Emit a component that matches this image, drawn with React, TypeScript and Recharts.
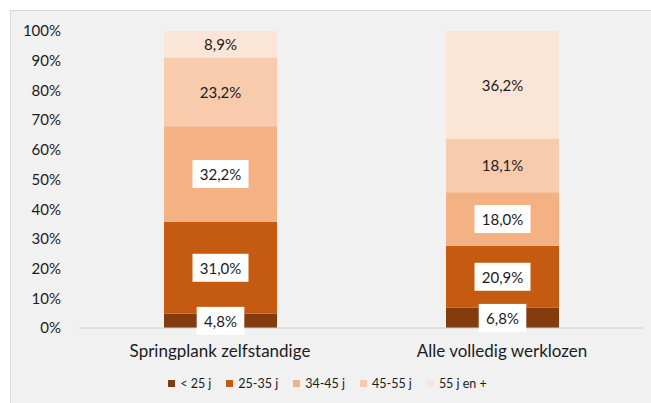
import React from "react";
import { BarChart, Bar, XAxis, YAxis, Legend, LabelList } from "recharts";

const categories = ["Springplank zelfstandige", "Alle volledig werklozen"];
const seriesNames = ["< 25 j", "25-35 j", "34-45 j", "45-55 j", "55 j en +"];
const under25 = [4.8, 6.8];
const age25to35 = [31.0, 20.9];
const age34to45 = [32.2, 18.0];
const age45to55 = [23.2, 18.1];
const over55 = [8.9, 36.2];
const yTicks = [0, 0.1, 0.2, 0.3, 0.4, 0.5, 0.6, 0.7, 0.8, 0.9, 1];

const colors = ["#843C0C", "#C55A11", "#F4B183", "#F8CBAD", "#FBE5D6"];
const keys = ["s0", "s1", "s2", "s3", "s4"];
const boxed = [true, true, true, false, false];

const data = categories.map((name, i) => ({
  name,
  s0: under25[i],
  s1: age25to35[i],
  s2: age34to45[i],
  s3: age45to55[i],
  s4: over55[i],
}));

const FONT = "Lato, 'Open Sans', sans-serif";
const INK = "#1c1c1c";
const fmt = (v: number) => v.toFixed(1).replace(".", ",") + "%";

function makeLabel(withBox: boolean) {
  return (props: any) => {
    const { x, y, width, height, value } = props;
    const cx = x + width / 2;
    const cy = y + height / 2;
    const text = fmt(Number(value));
    const w = text.length * 8.4 + 14;
    return (
      <g>
        {withBox && <rect x={cx - w / 2} y={cy - 14} width={w} height={28} fill="#ffffff" />}
        <text
          x={cx}
          y={cy}
          textAnchor="middle"
          dominantBaseline="central"
          fontSize={15}
          fontFamily={FONT}
          fill={INK}
        >
          {text}
        </text>
      </g>
    );
  };
}

function LegendContent() {
  return (
    <div style={{ display: "flex", justifyContent: "center", fontFamily: FONT, fontSize: 12.5, color: INK, paddingLeft: 16 }}>
      {seriesNames.map((n, i) => (
        <div key={n} style={{ display: "flex", alignItems: "center", marginRight: 15 }}>
          <span style={{ width: 7, height: 7, background: colors[i], display: "inline-block", marginRight: 5 }} />
          <span>{n}</span>
        </div>
      ))}
    </div>
  );
}

export default function App() {
  return (
    <div style={{ position: "absolute", left: 0, top: 0, width: 651, height: 403, background: "#ffffff" }}>
      <div
        style={{
          position: "absolute",
          left: 10,
          top: 10,
          width: 641,
          height: 393,
          background: "#F1F1F1",
          borderLeft: "1px solid #d9d9d9",
          borderTop: "1px solid #d9d9d9",
          boxSizing: "border-box",
        }}
      >
        <BarChart
          width={640}
          height={392}
          data={data}
          stackOffset="expand"
          margin={{ top: 20, right: 8, left: 0, bottom: 0 }}
        >
          <XAxis
            dataKey="name"
            tickLine={false}
            axisLine={{ stroke: "#d0d0d0" }}
            tick={{ fontSize: 17, fontFamily: FONT, fill: INK }}
            height={48}
            tickMargin={11}
          />
          <YAxis
            ticks={yTicks}
            domain={[0, 1]}
            tickFormatter={(v: number) => Math.round(v * 100) + "%"}
            tickLine={false}
            axisLine={false}
            width={68}
            tick={{ fontSize: 15, fontFamily: FONT, fill: INK }}
            tickMargin={12}
          />
          <Legend verticalAlign="bottom" height={27} content={<LegendContent />} />
          {keys.map((k, i) => (
            <Bar
              key={k}
              dataKey={k}
              name={seriesNames[i]}
              stackId="a"
              fill={colors[i]}
              barSize={113}
              isAnimationActive={false}
            >
              <LabelList dataKey={k} content={makeLabel(boxed[i])} />
            </Bar>
          ))}
        </BarChart>
      </div>
    </div>
  );
}
